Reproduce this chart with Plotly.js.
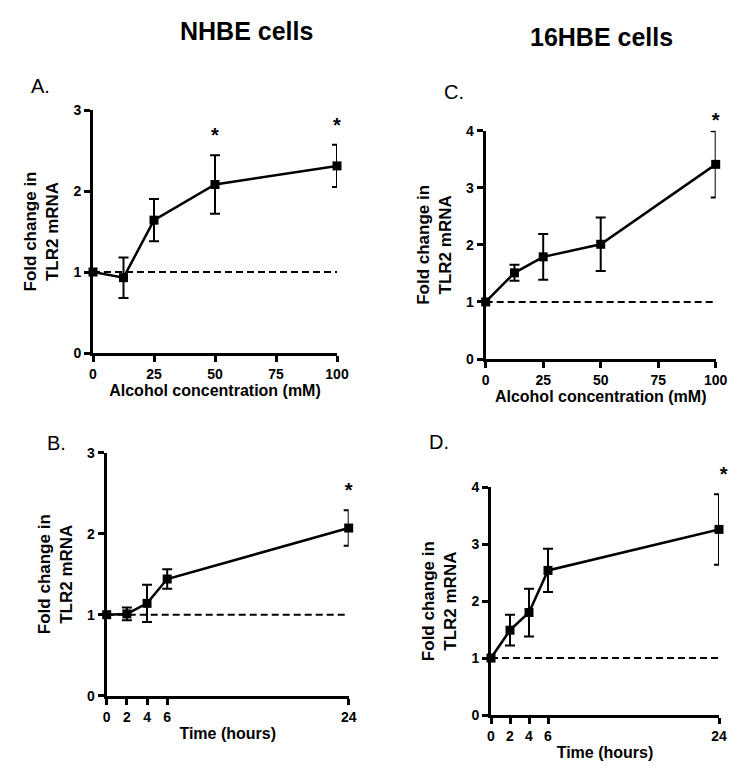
<!DOCTYPE html>
<html>
<head>
<meta charset="utf-8">
<script src="https://cdn.plot.ly/plotly-3.0.1.min.js"></script>
<style>html,body{margin:0;padding:0;background:#fff;}#chart{width:750px;height:775px;}</style>
</head>
<body>
<div id="chart"></div>
<script>
// ---- data ----
const concentration = [0, 12.5, 25, 50, 100];          // mM
const timeHours = [0, 2, 4, 6, 24];                      // hours

const nhbeConcMean = [1.00, 0.93, 1.64, 2.08, 2.31];
const nhbeConcErr  = [0, 0.25, 0.26, 0.36, 0.26];
const nhbeTimeMean = [1.00, 1.01, 1.14, 1.44, 2.07];
const nhbeTimeErr  = [0, 0.08, 0.23, 0.12, 0.22];

const hbeConcMean = [1.00, 1.51, 1.79, 2.01, 3.41];
const hbeConcErr  = [0, 0.14, 0.40, 0.47, 0.58];
const hbeTimeMean = [1.00, 1.49, 1.80, 2.54, 3.26];
const hbeTimeErr  = [0, 0.27, 0.42, 0.38, 0.62];

const baseline = 1;

// significance markers (position of the "*")
const sigA_x = [50, 100], sigA_y = [2.67, 2.79];
const sigB_x = [24],      sigB_y = [2.51];
const sigC_x = [100],     sigC_y = [4.15];
const sigD_x = [24.5],    sigD_y = [4.19];

const concTicks = [0, 25, 50, 75, 100];
const timeTicks = [0, 2, 4, 6, 24];
const yTicks3 = [0, 1, 2, 3];
const yTicks4 = [0, 1, 2, 3, 4];

const colTitles = ["NHBE cells", "16HBE cells"];
const panelLetters = ["A.", "B.", "C.", "D."];
const yTitle = "Fold change in<br>TLR2 mRNA";
const xTitleConc = "Alcohol concentration (mM)";
const xTitleTime = "Time (hours)";

// ---- layout geometry (pixels) ----
const W = 750, H = 775;
const panels = {
  A: {x: [93, 337],      y: [353, 110],   xr: [0, 100], yr: [0, 3]},
  B: {x: [106.7, 348.7], y: [695.7, 452.7], xr: [0, 24], yr: [0, 3]},
  C: {x: [485.7, 715.7], y: [359, 130.7], xr: [0, 100], yr: [0, 4]},
  D: {x: [491, 719],     y: [715, 487.3], xr: [0, 24],  yr: [0, 4]}
};
const xd = p => [p.x[0] / W, p.x[1] / W];
const yd = p => [1 - p.y[0] / H, 1 - p.y[1] / H];

// ---- styling ----
const FONT = "Liberation Sans, Arial, sans-serif";
const BLACK = "#000";

function seriesTrace(x, y, err, xa, ya) {
  return {
    type: "scatter", mode: "lines+markers", x: x, y: y,
    xaxis: xa, yaxis: ya, cliponaxis: false, showlegend: false,
    line: {color: BLACK, width: 2.5},
    marker: {symbol: "square", size: 9, color: BLACK},
    error_y: {type: "data", array: err, visible: true, color: BLACK, thickness: 2, width: 5}
  };
}
function baselineTrace(xmax, xa, ya) {
  return {
    type: "scatter", mode: "lines", x: [0, xmax], y: [baseline, baseline],
    xaxis: xa, yaxis: ya, showlegend: false, cliponaxis: false,
    line: {color: BLACK, width: 2, dash: "7px,4px"}
  };
}
function sigTrace(xs, ys, xa, ya) {
  return {
    type: "scatter", mode: "text", x: xs, y: ys, text: xs.map(() => "*"),
    textposition: "middle center", xaxis: xa, yaxis: ya, cliponaxis: false,
    showlegend: false,
    textfont: {family: FONT, size: 20, color: BLACK, weight: "bold"}
  };
}

const data = [
  baselineTrace(100, "x", "y"),
  seriesTrace(concentration, nhbeConcMean, nhbeConcErr, "x", "y"),
  sigTrace(sigA_x, sigA_y, "x5", "y5"),
  baselineTrace(24, "x2", "y2"),
  seriesTrace(timeHours, nhbeTimeMean, nhbeTimeErr, "x2", "y2"),
  sigTrace(sigB_x, sigB_y, "x6", "y6"),
  baselineTrace(100, "x3", "y3"),
  seriesTrace(concentration, hbeConcMean, hbeConcErr, "x3", "y3"),
  sigTrace(sigC_x, sigC_y, "x7", "y7"),
  baselineTrace(24, "x4", "y4"),
  seriesTrace(timeHours, hbeTimeMean, hbeTimeErr, "x4", "y4"),
  sigTrace(sigD_x, sigD_y, "x8", "y8")
];

function xAxis(p, ticks, title, anchor) {
  return {
    domain: xd(p), range: p.xr, anchor: anchor,
    tickvals: ticks, ticktext: ticks.map(String),
    showline: true, linecolor: BLACK, linewidth: 3,
    ticks: "outside", ticklen: 6, tickwidth: 3, tickcolor: BLACK,
    showgrid: false, zeroline: false, fixedrange: true,
    tickfont: {family: FONT, size: 14, color: BLACK, weight: "bold"},
    title: {text: "<b>" + title + "</b>", standoff: 5, font: {family: FONT, size: 16, color: BLACK}}
  };
}
function yAxis(p, ticks, anchor) {
  return {
    domain: yd(p), range: p.yr, anchor: anchor,
    tickvals: ticks, ticktext: ticks.map(String),
    showline: true, linecolor: BLACK, linewidth: 3,
    ticks: "outside", ticklen: 6, tickwidth: 3, tickcolor: BLACK,
    showgrid: false, zeroline: false, fixedrange: true,
    tickfont: {family: FONT, size: 14, color: BLACK, weight: "bold"},
    title: {text: "<b>" + yTitle + "</b>", standoff: 11, font: {family: FONT, size: 17, color: BLACK}}
  };
}
// hidden axes with the same scale as a panel, extended so that the
// significance stars above/right of the plotting area can be drawn
const EXT = 40;
function hiddenX(p, anchor) {
  const w = p.x[1] - p.x[0];
  return {visible: false, anchor: anchor, fixedrange: true,
          domain: [p.x[0] / W, Math.min(1, (p.x[1] + EXT) / W)],
          range: [p.xr[0], p.xr[0] + (p.xr[1] - p.xr[0]) * (Math.min(W, p.x[1] + EXT) - p.x[0]) / w]};
}
function hiddenY(p, anchor) {
  const h = p.y[0] - p.y[1];
  return {visible: false, anchor: anchor, fixedrange: true,
          domain: [1 - p.y[0] / H, 1 - (p.y[1] - EXT) / H],
          range: [p.yr[0], p.yr[0] + (p.yr[1] - p.yr[0]) * (h + EXT) / h]};
}

function paperText(text, xpx, ypx, size, bold, xanchor) {
  return {
    x: xpx / W, y: 1 - ypx / H, xref: "paper", yref: "paper",
    text: bold ? "<b>" + text + "</b>" : text, showarrow: false,
    xanchor: xanchor || "center", yanchor: "middle",
    font: {family: FONT, size: size, color: BLACK}
  };
}

const layout = {
  width: W, height: H,
  margin: {l: 0, r: 0, t: 0, b: 0},
  paper_bgcolor: "#fff", plot_bgcolor: "rgba(0,0,0,0)",
  showlegend: false,
  xaxis:  xAxis(panels.A, concTicks, xTitleConc, "y"),
  yaxis:  yAxis(panels.A, yTicks3, "x"),
  xaxis2: xAxis(panels.B, timeTicks, xTitleTime, "y2"),
  yaxis2: yAxis(panels.B, yTicks3, "x2"),
  xaxis3: xAxis(panels.C, concTicks, xTitleConc, "y3"),
  yaxis3: yAxis(panels.C, yTicks4, "x3"),
  xaxis4: xAxis(panels.D, timeTicks, xTitleTime, "y4"),
  yaxis4: yAxis(panels.D, yTicks4, "x4"),
  xaxis5: hiddenX(panels.A, "y5"), yaxis5: hiddenY(panels.A, "x5"),
  xaxis6: hiddenX(panels.B, "y6"), yaxis6: hiddenY(panels.B, "x6"),
  xaxis7: hiddenX(panels.C, "y7"), yaxis7: hiddenY(panels.C, "x7"),
  xaxis8: hiddenX(panels.D, "y8"), yaxis8: hiddenY(panels.D, "x8"),
  annotations: [
    paperText(colTitles[0], 247, 31, 25, true),
    paperText(colTitles[1], 601, 37, 25, true),
    paperText(panelLetters[0], 29, 86, 20, false, "left"),
    paperText(panelLetters[1], 45, 443, 20, false, "left"),
    paperText(panelLetters[2], 442, 92, 20, false, "left"),
    paperText(panelLetters[3], 427, 442, 20, false, "left")
  ]
};

Plotly.newPlot("chart", data, layout, {displayModeBar: false, staticPlot: true});
</script>
</body>
</html>
